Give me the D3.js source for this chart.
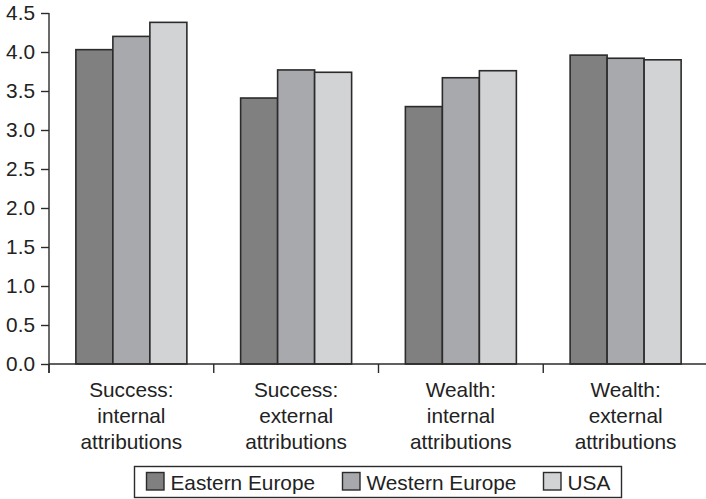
<!DOCTYPE html>
<html>
<head>
<meta charset="utf-8">
<script src="https://cdn.jsdelivr.net/npm/d3@7"></script>
<style>
  html, body { margin: 0; padding: 0; background: #fff; }
  svg { display: block; font-family: "Liberation Sans", Arial, Helvetica, sans-serif; }
</style>
</head>
<body>
<svg id="chart" width="706" height="499"></svg>
<script>
// Attribution scores by category and region
const categories = [
  ["Success:", "internal", "attributions"],
  ["Success:", "external", "attributions"],
  ["Wealth:", "internal", "attributions"],
  ["Wealth:", "external", "attributions"]
];
const seriesNames = ["Eastern Europe", "Western Europe", "USA"];
const easternEurope = [4.03, 3.41, 3.30, 3.96];
const westernEurope = [4.20, 3.77, 3.67, 3.92];
const usa = [4.38, 3.74, 3.76, 3.90];
const yTicks = [0, 0.5, 1, 1.5, 2, 2.5, 3, 3.5, 4, 4.5];
const fills = ["#808080", "#a8a9ac", "#d2d3d5"];

const seriesValues = [easternEurope, westernEurope, usa];
const svg = d3.select("#chart");
const ink = "#2b2b2b";
const fontSize = 20.8;

const x0 = d3.scaleBand().domain(d3.range(categories.length)).range([49, 708]).paddingInner(0).paddingOuter(0);
const inner = 111 / x0.bandwidth();
const x1 = d3.scaleBand().domain(d3.range(seriesNames.length))
  .range([x0.bandwidth() * (1 - inner) / 2, x0.bandwidth() * (1 + inner) / 2]);
const y = d3.scaleLinear().domain([0, 4.5]).range([364, 13]);

// Bars
const groups = svg.append("g").selectAll("g")
  .data(categories.map((c, i) => i))
  .join("g")
  .attr("transform", i => `translate(${x0(i)},0)`);

groups.selectAll("rect")
  .data(i => seriesValues.map((vals, s) => ({ s, v: vals[i] })))
  .join("rect")
  .attr("x", d => x1(d.s))
  .attr("width", x1.bandwidth())
  .attr("y", d => y(d.v))
  .attr("height", d => y(0) - y(d.v))
  .attr("fill", d => fills[d.s])
  .attr("stroke", ink)
  .attr("stroke-width", 1.6);

// Y axis
const yAxis = svg.append("g")
  .attr("transform", "translate(49,0)")
  .call(d3.axisLeft(y).tickValues(yTicks).tickFormat(d3.format(".1f")).tickSize(8).tickPadding(6));
yAxis.select(".domain").attr("stroke", ink).attr("stroke-width", 1.4).attr("d", "M0,13V373");
yAxis.selectAll(".tick line").attr("stroke", ink).attr("stroke-width", 1.4);
yAxis.selectAll(".tick text")
  .attr("fill", "#222")
  .style("font-size", fontSize + "px")
  .style("font-family", "'Liberation Sans', Arial, sans-serif");

// X axis with ticks at band boundaries
const xAxisG = svg.append("g").attr("transform", `translate(0,${y(0)})`);
xAxisG.append("line")
  .attr("x1", 49).attr("x2", 706)
  .attr("stroke", ink).attr("stroke-width", 1.4);
xAxisG.selectAll("line.tick")
  .data(d3.range(categories.length + 1))
  .join("line")
  .attr("class", "tick")
  .attr("x1", i => 49 + i * x0.bandwidth())
  .attr("x2", i => 49 + i * x0.bandwidth())
  .attr("y1", 0).attr("y2", 9)
  .attr("stroke", ink).attr("stroke-width", 1.4);

// Category labels
const labels = svg.append("g").selectAll("text")
  .data(categories)
  .join("text")
  .attr("x", (d, i) => x0(i) + x0.bandwidth() / 2)
  .attr("y", 397)
  .attr("text-anchor", "middle")
  .attr("fill", "#222")
  .style("font-size", fontSize + "px");
labels.selectAll("tspan")
  .data(d => d)
  .join("tspan")
  .attr("x", function () { return this.parentNode.getAttribute("x"); })
  .attr("dy", (d, j) => j === 0 ? 0 : 25.8)
  .text(d => d);

// Legend
const legend = svg.append("g");
legend.append("rect")
  .attr("x", 134.5).attr("y", 466.5)
  .attr("width", 487).attr("height", 31)
  .attr("fill", "#fff").attr("stroke", ink).attr("stroke-width", 1.4);
const swatchX = [146.5, 342.5, 543.5];
const items = legend.selectAll("g")
  .data(seriesNames)
  .join("g")
  .attr("transform", (d, i) => `translate(${swatchX[i]},0)`);
items.append("rect")
  .attr("x", 0).attr("y", 472.5)
  .attr("width", 17.5).attr("height", 17.5)
  .attr("fill", (d, i) => fills[i]).attr("stroke", ink).attr("stroke-width", 1.4);
items.append("text")
  .attr("x", 24).attr("y", 489.5)
  .attr("fill", "#222")
  .style("font-size", fontSize + "px")
  .text(d => d);
</script>
</body>
</html>
